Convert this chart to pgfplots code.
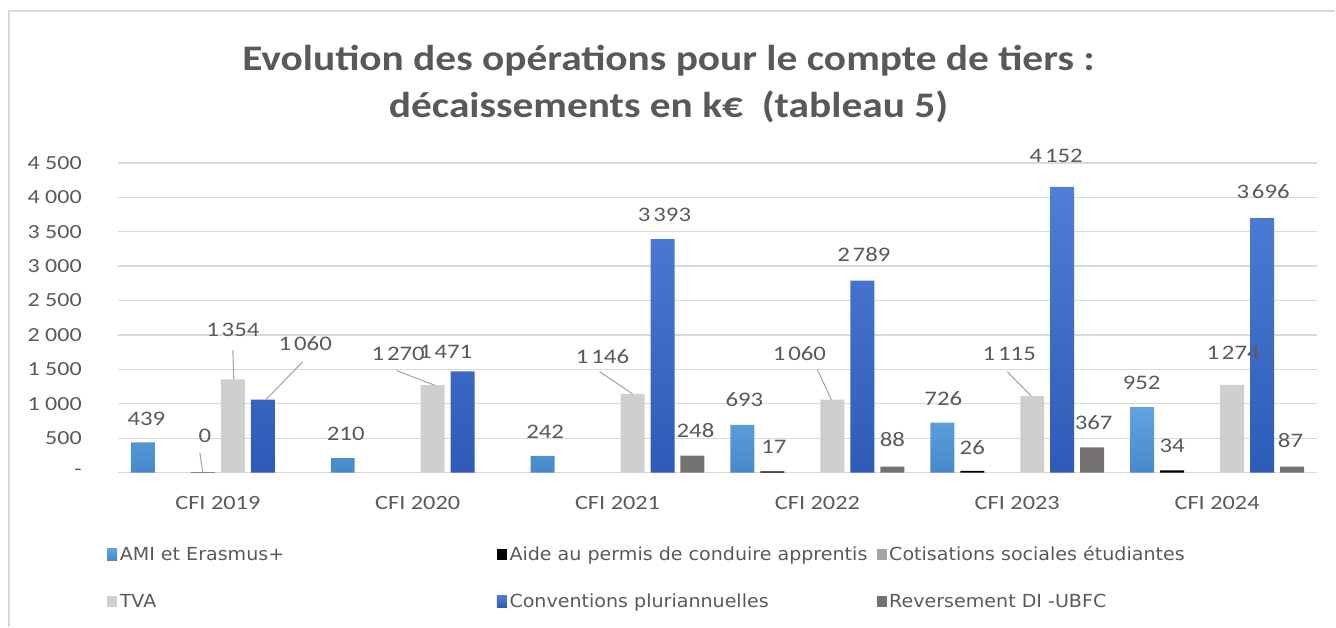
\documentclass[border=0pt]{standalone}
\usepackage{fontspec}
\setmainfont{Carlito}[FakeStretch=1.2]
\newfontfamily\titlefont{Carlito}[FakeStretch=1.15]
\newfontfamily\legfont{DejaVu Sans}[FakeStretch=1.06]
\usepackage{pgfplots}
\pgfplotsset{compat=1.18}
\definecolor{txt}{HTML}{595959}
\definecolor{gridc}{HTML}{D9D9D9}
\definecolor{amiT}{HTML}{62A4DF}
\definecolor{amiB}{HTML}{4689CB}
\definecolor{convT}{HTML}{4F7DD7}
\definecolor{convB}{HTML}{2E5BB7}
\definecolor{cotis}{HTML}{A5A5A5}
\definecolor{tva}{HTML}{D0CECE}
\definecolor{rev}{HTML}{767171}
\definecolor{leader}{HTML}{A6A6A6}
\newcommand{\ns}{\hspace{0.14em}}
\tikzset{lbl/.style={text=txt, font=\fontsize{15.5}{19}\selectfont, inner sep=0pt},
  ldr/.style={leader, line width=0.8pt}}
\begin{document}
\begin{tikzpicture}[x=0.75pt,y=-0.75pt]
\path (0,0) rectangle (1336,627);
\draw[gridc, line width=1.5pt] (9,627) -- (9,11) -- (1336,11);
\node[text=txt, font=\titlefont\fontsize{27}{35.25}\selectfont\bfseries, align=center] at (669,84) {Evolution des opérations pour le compte de tiers :\\ décaissements en k€~~(tableau 5)};
\coordinate (O) at (118,473);
\begin{axis}[
  at={(O)}, anchor=south west,
  width=900pt, height=232.5pt, scale only axis,
  xmin=-0.5, xmax=5.5, ymin=0, ymax=4500,
  clip=false,
  axis y line=left, axis x line=bottom,
  y axis line style={draw=none},
  x axis line style={draw=gridc, line width=1pt, -},
  ymajorgrids, grid style={gridc, line width=1pt},
  major tick length=0pt,
  ytick={0,500,...,4500},
  yticklabels={{-\hspace{10pt}},500,1~000,1~500,2~000,2~500,3~000,3~500,4~000,4~500},
  xtick={0,...,5},
  xticklabels={CFI 2019,CFI 2020,CFI 2021,CFI 2022,CFI 2023,CFI 2024},
  yticklabel style={text=txt, font=\fontsize{15}{18}\selectfont, anchor=east, inner sep=0pt, xshift=-27pt},
  xticklabel style={text=txt, font=\fontsize{15.2}{19}\selectfont, anchor=center, inner sep=0pt, yshift=-22.5pt},
  bar width=0.12,
  legend columns=3,
  legend style={draw=none, fill=none, inner sep=0pt, at={(-0.0092,-0.235)}, anchor=north west,
    nodes={inner sep=0pt, text=txt, font=\legfont\fontsize{13.5}{16}\selectfont, anchor=base west},
    column sep=0pt, row sep=23.5pt},
  legend image code/.code={\fill[#1, draw=none] (0pt,0pt) rectangle (7.5pt,8.5pt);},
]
\addplot[ybar, bar shift=-0.375, draw=none, top color=amiT, bottom color=amiB]
  coordinates {(0,439)(1,210)(2,242)(3,693)(4,726)(5,952)};
\addlegendentry{\makebox[285pt][l]{\hspace{2pt}AMI et Erasmus+}}
\addplot[ybar, bar shift=-0.225, draw=none, fill=black]
  coordinates {(3,17)(4,26)(5,34)};
\addlegendentry{\makebox[277.5pt][l]{\hspace{2pt}Aide au permis de conduire apprentis}}
\addplot[ybar, bar shift=-0.075, draw=cotis!80!black, line width=1.2pt, fill=cotis]
  coordinates {(0,0)};
\addlegendentry{\makebox[240pt][l]{\hspace{2pt}Cotisations sociales étudiantes}}
\addplot[ybar, bar shift=0.075, draw=none, fill=tva]
  coordinates {(0,1354)(1,1270)(2,1146)(3,1060)(4,1115)(5,1274)};
\addlegendentry{\makebox[285pt][l]{\hspace{2pt}TVA}}
\addplot[ybar, bar shift=0.225, draw=none, top color=convT, bottom color=convB]
  coordinates {(0,1060)(1,1471)(2,3393)(3,2789)(4,4152)(5,3696)};
\addlegendentry{\makebox[277.5pt][l]{\hspace{2pt}Conventions pluriannuelles}}
\addplot[ybar, bar shift=0.375, draw=none, fill=rev]
  coordinates {(2,248)(3,88)(4,367)(5,87)};
\addlegendentry{\makebox[240pt][l]{\hspace{2pt}Reversement DI -UBFC}}
% leader lines
\draw[ldr] (axis cs:-0.09,290) -- (axis cs:-0.075,0);
\draw[ldr] (axis cs:0.075,1785) -- (axis cs:0.08,1354);
\draw[ldr] (axis cs:0.425,1611) -- (axis cs:0.24,1060);
\draw[ldr] (axis cs:0.895,1481) -- (axis cs:1.085,1270);
\draw[ldr] (axis cs:1.91,1466) -- (axis cs:2.075,1146);
\draw[ldr] (axis cs:3.0,1495) -- (axis cs:3.07,1060);
\draw[ldr] (axis cs:3.95,1466) -- (axis cs:4.07,1115);
% data labels
\node[lbl] at (axis cs:-0.3575,784) {439};
\node[lbl] at (axis cs:-0.065,530) {0};
\node[lbl] at (axis cs:0.075,2076) {1\ns354};
\node[lbl] at (axis cs:0.4375,1873) {1\ns060};
\node[lbl] at (axis cs:0.64,559) {210};
\node[lbl] at (axis cs:0.9025,1727) {1\ns270};
\node[lbl] at (axis cs:1.14,1756) {1\ns471};
\node[lbl] at (axis cs:1.6375,595) {242};
\node[lbl] at (axis cs:1.925,1684) {1\ns146};
\node[lbl] at (axis cs:2.235,3752) {3\ns393};
\node[lbl] at (axis cs:2.39,610) {248};
\node[lbl] at (axis cs:2.635,1060) {693};
\node[lbl] at (axis cs:2.7825,370) {17};
\node[lbl] at (axis cs:2.91,1727) {1\ns060};
\node[lbl] at (axis cs:3.2325,3164) {2\ns789};
\node[lbl] at (axis cs:3.375,479) {88};
\node[lbl] at (axis cs:3.63,1074) {726};
\node[lbl] at (axis cs:3.775,370) {26};
\node[lbl] at (axis cs:3.96,1727) {1\ns115};
\node[lbl] at (axis cs:4.195,4602) {4\ns152};
\node[lbl] at (axis cs:4.3825,726) {367};
\node[lbl] at (axis cs:4.6225,1306) {952};
\node[lbl] at (axis cs:4.775,385) {34};
\node[lbl] at (axis cs:5.08,1742) {1\ns274};
\node[lbl] at (axis cs:5.23,4079) {3\ns696};
\node[lbl] at (axis cs:5.3675,472) {87};
\end{axis}
\end{tikzpicture}
\end{document}
